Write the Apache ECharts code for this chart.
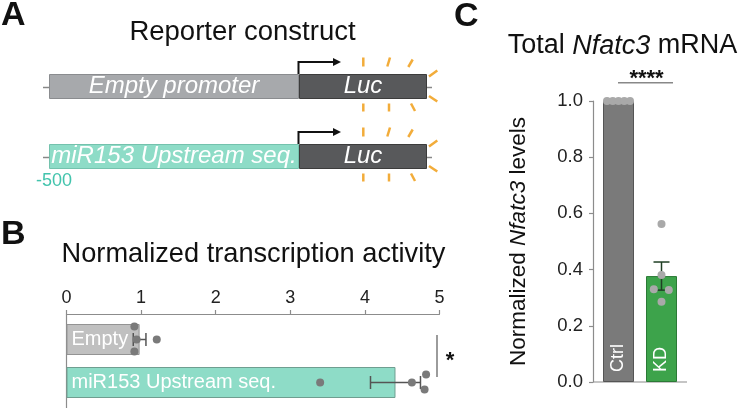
<!DOCTYPE html>
<html>
<head>
<meta charset="utf-8">
<script src="https://cdn.jsdelivr.net/npm/echarts@6/dist/echarts.min.js"></script>
<style>
html,body{margin:0;padding:0;background:#fff;}
#chart{width:740px;height:408px;}
</style>
</head>
<body>
<div id="chart"></div>
<script>
// ---------- DATA ----------
// Panel A: reporter constructs (schematic lengths)
const constructRows = ['Empty', 'miR153'];
const promoterNames = ['Empty promoter', 'miR153 Upstream seq.'];
const promoterStart = [-500, -500];
const lucLength = [256, 256];
const promoterLabel = '-500';

// Panel B: normalized transcription activity
const bCategories = ['Empty', 'miR153 Upstream seq.'];
const bMeans = [0.98, 4.41];
const bSem = [0.085, 0.335];
const bEmptyPoints = [0.91, 0.94, 0.91, 1.21];
const bMirPoints = [3.40, 4.63, 4.82, 4.80];
const bTicks = [0, 1, 2, 3, 4, 5];

// Panel C: total Nfatc3 mRNA
const cCategories = ['Ctrl', 'KD'];
const cMeans = [1.0, 0.377];
const cSem = [0, 0.05];
const cCtrlPoints = [1, 1, 1, 1, 1];
const cKdPoints = [0.562, 0.381, 0.330, 0.327, 0.286];
const cTicks = [0, 0.2, 0.4, 0.6, 0.8, 1.0];

// jitter of dots (pixels)
const bEmptyJitter = [-13, 0, 12, 0];
const bMirJitter = [0, 0, -8, 7];
const cCtrlJitter = [-11.5, -5.75, 0, 5.75, 11.5];
const cKdJitter = [0, 0, -7.7, 7.3, 0];

// ---------- STYLE ----------
const FONT = '"Liberation Sans", Arial, Helvetica, sans-serif';
const axisGray = '#8c8c8c';
const orange = '#f2ac3a';

const chart = echarts.init(document.getElementById('chart'), null, {renderer: 'canvas'});

function hErrRender(params, api) {
  const lo = api.value(0), hi = api.value(1), idx = api.value(2);
  const p1 = api.coord([lo, idx]);
  const p2 = api.coord([hi, idx]);
  const h = 13;
  const st = {stroke: '#555', lineWidth: 1.5};
  return {type: 'group', children: [
    {type: 'line', shape: {x1: p1[0], y1: p1[1], x2: p2[0], y2: p2[1]}, style: st},
    {type: 'line', shape: {x1: p1[0], y1: p1[1] - h / 2, x2: p1[0], y2: p1[1] + h / 2}, style: st},
    {type: 'line', shape: {x1: p2[0], y1: p2[1] - h / 2, x2: p2[0], y2: p2[1] + h / 2}, style: st}
  ]};
}
function vErrRender(params, api) {
  const idx = api.value(0), lo = api.value(1), hi = api.value(2);
  if (hi - lo <= 0) return null;
  const p1 = api.coord([idx, lo]);
  const p2 = api.coord([idx, hi]);
  const w = 16;
  const st = {stroke: '#1f3f24', lineWidth: 1.5};
  return {type: 'group', children: [
    {type: 'line', shape: {x1: p1[0], y1: p1[1], x2: p2[0], y2: p2[1]}, style: st},
    {type: 'line', shape: {x1: p1[0] - w / 2, y1: p1[1], x2: p1[0] + w / 2, y2: p1[1]}, style: st},
    {type: 'line', shape: {x1: p2[0] - w / 2, y1: p2[1], x2: p2[0] + w / 2, y2: p2[1]}, style: st}
  ]};
}

// decorative elements of the schematic (per construct row)
const rowCenters = [86.5, 156.5];
const schematic = [];
rowCenters.forEach(function (cy) {
  // DNA backbone tails
  schematic.push({type: 'line', shape: {x1: 43, y1: cy + 1, x2: 49, y2: cy + 1}, style: {stroke: '#888', lineWidth: 1.5}});
  schematic.push({type: 'line', shape: {x1: 427, y1: cy + 1, x2: 432, y2: cy + 1}, style: {stroke: '#888', lineWidth: 1.5}});
  // transcription start arrow
  schematic.push({type: 'polyline', shape: {points: [[298.5, cy - 12.5], [298.5, cy - 24.5], [335, cy - 24.5]]}, style: {stroke: '#111', lineWidth: 2, fill: null}});
  schematic.push({type: 'polygon', shape: {points: [[333, cy - 28.5], [341, cy - 24.5], [333, cy - 20.5]]}, style: {fill: '#111'}});
  // light rays
  const rays = [
    [363.3, cy - 29, 363.3, cy - 20],
    [387.3, cy - 20, 390, cy - 29],
    [408.3, cy - 19.5, 412.7, cy - 27],
    [429, cy - 10, 437.3, cy - 16],
    [429, cy + 9.5, 437.3, cy + 15],
    [363.3, cy + 17, 363.3, cy + 25],
    [389, cy + 17, 389, cy + 25],
    [411, cy + 17, 415, cy + 24.5]
  ];
  rays.forEach(function (r) {
    schematic.push({type: 'line', shape: {x1: r[0], y1: r[1], x2: r[2], y2: r[3]}, style: {stroke: orange, lineWidth: 2.5}});
  });
});

function txt(text, x, y, size, opts) {
  opts = opts || {};
  return {type: 'text', z: 10, style: Object.assign({
    text: text, x: x, y: y, fill: opts.fill || '#111',
    font: (opts.weight || 'normal') + ' ' + size + 'px ' + FONT,
    textAlign: opts.align || 'left', textVerticalAlign: 'middle'
  }, opts.extra || {})};
}

const option = {
  animation: false,
  backgroundColor: '#fff',
  textStyle: {fontFamily: FONT},
  grid: [
    {left: 49, top: 51.5, width: 378, height: 140},
    {left: 66.5, top: 318, width: 373, height: 86},
    {left: 597, top: 101, width: 86, height: 281}
  ],
  xAxis: [
    {gridIndex: 0, type: 'value', min: -500, max: 256, show: false},
    {gridIndex: 1, type: 'value', position: 'top', min: bTicks[0], max: bTicks[bTicks.length - 1], interval: 1, offset: 4,
      axisLine: {show: true, lineStyle: {color: axisGray, width: 1.2}},
      axisTick: {show: true, length: 4, lineStyle: {color: axisGray, width: 1.2}},
      axisLabel: {fontSize: 18, color: '#222', margin: 7, fontFamily: FONT},
      splitLine: {show: false}},
    {gridIndex: 2, type: 'category', data: cCategories, show: false}
  ],
  yAxis: [
    {gridIndex: 0, type: 'category', data: constructRows, inverse: true, show: false},
    {gridIndex: 1, type: 'category', data: bCategories, inverse: true, show: false},
    {gridIndex: 2, type: 'value', min: cTicks[0], max: cTicks[cTicks.length - 1], interval: 0.2, offset: 4,
      axisLine: {show: true, lineStyle: {color: axisGray, width: 1.2}},
      axisTick: {show: true, length: 4, lineStyle: {color: axisGray, width: 1.2}},
      axisLabel: {fontSize: 18.5, color: '#222', margin: 10, fontFamily: FONT, formatter: function (v) { return v.toFixed(1); }},
      splitLine: {show: false},
      name: '{n|Normalized }{i|Nfatc3}{n| levels}',
      nameLocation: 'middle', nameGap: 63, nameRotate: 90,
      nameTextStyle: {rich: {
        n: {fontSize: 22.5, color: '#111', fontFamily: FONT},
        i: {fontSize: 22.5, color: '#111', fontFamily: FONT, fontStyle: 'italic'}
      }}}
  ],
  series: [
    // Panel A
    {type: 'bar', xAxisIndex: 0, yAxisIndex: 0, stack: 'construct', barWidth: 25,
      data: promoterStart.map(function (v, i) {
        return {value: v, itemStyle: {color: i === 0 ? '#a7a9ac' : '#8edcc7', borderColor: i === 0 ? '#8a8c8f' : '#74c2ad', borderWidth: 1}};
      }),
      label: {show: true, position: 'inside', color: '#fff', fontSize: 24, fontStyle: 'italic', fontFamily: FONT,
        formatter: function (p) { return promoterNames[p.dataIndex]; }}},
    {type: 'bar', xAxisIndex: 0, yAxisIndex: 0, stack: 'construct', barWidth: 25,
      data: lucLength,
      itemStyle: {color: '#58595b', borderColor: '#3c3c3c', borderWidth: 1},
      label: {show: true, position: 'inside', color: '#fff', fontSize: 24, fontStyle: 'italic', fontFamily: FONT, formatter: 'Luc'}},
    // Panel B
    {type: 'bar', xAxisIndex: 1, yAxisIndex: 1, barWidth: 31,
      data: bMeans.map(function (v, i) {
        return {value: v, itemStyle: {color: i === 0 ? '#c0c0c0' : '#8edcc7', borderColor: i === 0 ? '#939393' : '#6f9e90', borderWidth: 1}};
      }),
      label: {show: true, position: 'insideLeft', distance: 5, color: '#fff', fontSize: 20, fontFamily: FONT,
        formatter: function (p) { return bCategories[p.dataIndex]; }}},
    {type: 'custom', xAxisIndex: 1, yAxisIndex: 1, z: 3, renderItem: hErrRender,
      encode: {x: [0, 1], y: 2},
      data: bMeans.map(function (m, i) { return [m - bSem[i], m + bSem[i], i]; })},
    {type: 'scatter', xAxisIndex: 1, yAxisIndex: 1, z: 4, symbolSize: 8,
      itemStyle: {color: '#7a7a7a', opacity: 1},
      data: bEmptyPoints.map(function (v, k) { return {value: [v, 0], symbolOffset: [0, bEmptyJitter[k]]}; })
        .concat(bMirPoints.map(function (v, k) { return {value: [v, 1], symbolOffset: [0, bMirJitter[k]]}; }))},
    // Panel C
    {type: 'bar', xAxisIndex: 2, yAxisIndex: 2, barWidth: 31,
      data: cMeans.map(function (v, i) {
        return {value: v, itemStyle: {color: i === 0 ? '#7a7a7a' : '#3da34b', borderColor: i === 0 ? '#555' : '#2b7a36', borderWidth: 1}};
      }),
      label: {show: true, position: 'insideBottom', rotate: 90, align: 'left', verticalAlign: 'middle', distance: 10,
        color: '#fff', fontSize: 18, fontFamily: FONT,
        formatter: function (p) { return cCategories[p.dataIndex]; }}},
    {type: 'custom', xAxisIndex: 2, yAxisIndex: 2, z: 3, renderItem: vErrRender,
      encode: {x: 0, y: [1, 2]},
      data: cMeans.map(function (m, i) { return [i, m - cSem[i], m + cSem[i]]; })},
    {type: 'scatter', xAxisIndex: 2, yAxisIndex: 2, z: 4, symbolSize: 8,
      itemStyle: {color: '#a9a9a9', opacity: 1},
      data: cCtrlPoints.map(function (v, k) { return {value: [0, v], symbolOffset: [cCtrlJitter[k], 0]}; })
        .concat(cKdPoints.map(function (v, k) { return {value: [1, v], symbolOffset: [cKdJitter[k], 0]}; }))}
  ],
  graphic: {elements: schematic.concat([
    // panel letters
    txt('A', 1, 16, 34, {weight: 'bold'}),
    txt('B', 1, 235, 34, {weight: 'bold'}),
    txt('C', 454, 17, 34, {weight: 'bold'}),
    // titles
    txt('Reporter construct', 242.5, 32, 27.5, {align: 'center'}),
    txt('Normalized transcription activity', 253.5, 255, 27.2, {align: 'center'}),
    {type: 'text', z: 10, style: {
      text: '{n|Total }{i|Nfatc3}{n| mRNA}', x: 622.5, y: 46, textAlign: 'center', textVerticalAlign: 'middle',
      rich: {
        n: {fontSize: 27, fontFamily: FONT, fill: '#111'},
        i: {fontSize: 27, fontFamily: FONT, fontStyle: 'italic', fill: '#111'}
      }}},
    // -500 label
    txt(promoterLabel, 36, 181, 18, {fill: '#43c4ad'}),
    // Panel B y-axis line & significance
    {type: 'line', shape: {x1: 66.5, y1: 314, x2: 66.5, y2: 408}, style: {stroke: axisGray, lineWidth: 1.2}},
    {type: 'line', shape: {x1: 437, y1: 335, x2: 437, y2: 377}, style: {stroke: '#666', lineWidth: 1.3}},
    txt('*', 450, 361, 22, {align: 'center', weight: 'bold'}),
    // Panel C x-axis line & significance
    {type: 'line', shape: {x1: 593, y1: 382, x2: 687, y2: 382}, style: {stroke: axisGray, lineWidth: 1.2}},
    {type: 'line', shape: {x1: 618, y1: 82.7, x2: 673, y2: 82.7}, style: {stroke: '#888', lineWidth: 1.5}},
    txt('****', 646.5, 79, 22, {align: 'center', weight: 'bold'})
  ])}
};
chart.setOption(option);
</script>
</body>
</html>
